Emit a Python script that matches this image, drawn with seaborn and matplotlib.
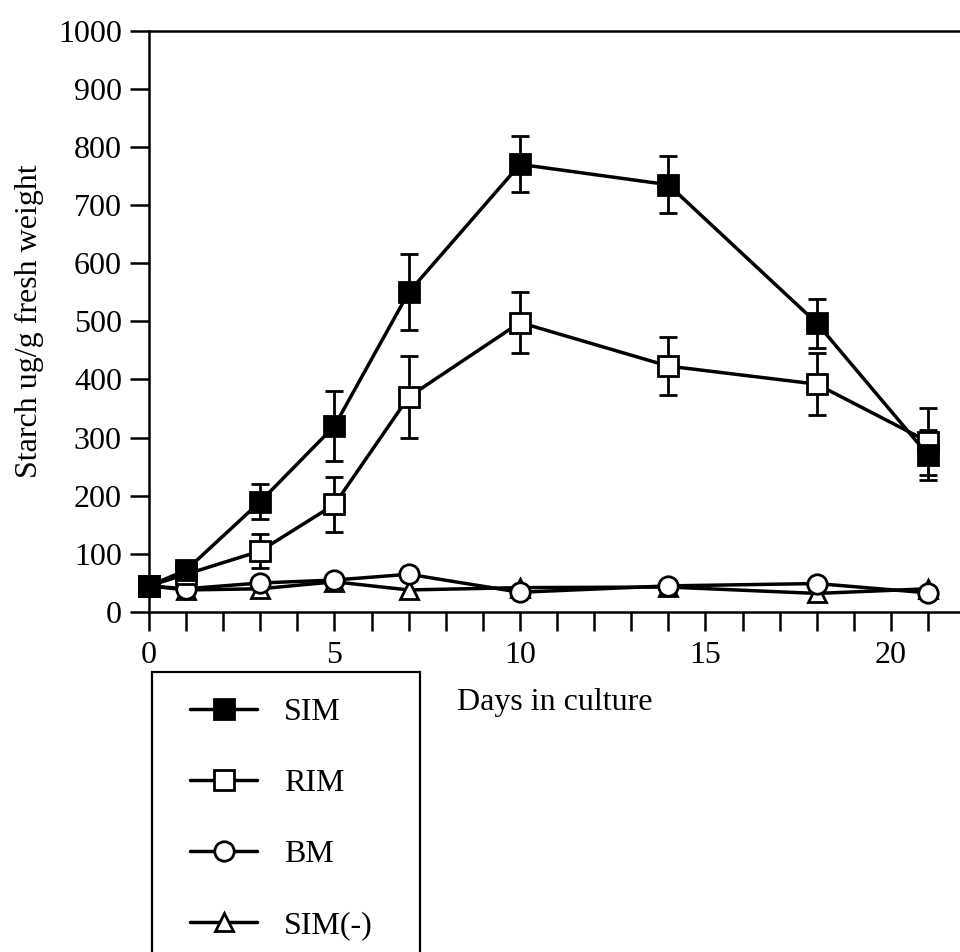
import matplotlib
matplotlib.use("Agg")
import matplotlib.pyplot as plt
from matplotlib.patches import Rectangle
from matplotlib.ticker import FixedLocator, FuncFormatter
import seaborn as sns
import pandas as pd

# Starch content over the culture period (ug/g fresh weight)
days = [0, 1, 3, 5, 7, 10, 14, 18, 21]
sim = [45, 72, 190, 320, 550, 770, 735, 497, 270]
sim_err = [0, 0, 30, 60, 65, 48, 49, 42, 43]
rim = [45, 65, 105, 185, 370, 498, 423, 392, 293]
rim_err = [0, 0, 30, 48, 70, 52, 50, 53, 58]
bm = [45, 40, 50, 55, 65, 34, 45, 49, 33]
sim_minus = [45, 38, 40, 52, 38, 42, 43, 32, 40]

series_names = ["SIM", "RIM", "BM", "SIM(-)"]

sns.set_style("ticks")
plt.rcParams["font.family"] = ["Liberation Serif", "DejaVu Serif"]
plt.rcParams["axes.linewidth"] = 1.8
for key in ("text.color", "axes.labelcolor", "xtick.color", "ytick.color", "axes.edgecolor"):
    plt.rcParams[key] = "black"

FS = 23

fig = plt.figure(figsize=(9.6, 9.52), dpi=100)
ax = fig.add_axes([0.1552, 0.3571, 0.8448, 0.6107])

df = pd.DataFrame({"day": days, "SIM": sim, "RIM": rim, "BM": bm, "SIM(-)": sim_minus})

line_kw = dict(color="black", linewidth=2.5, markersize=14, markeredgewidth=2.0,
               markeredgecolor="black", clip_on=False, ax=ax)

# error bars sit beneath the markers
ax.errorbar(days, sim, yerr=sim_err, fmt="none", ecolor="black", elinewidth=2.0,
            capsize=6.5, capthick=2.0, zorder=1)
ax.errorbar(days, rim, yerr=rim_err, fmt="none", ecolor="black", elinewidth=2.0,
            capsize=6.5, capthick=2.0, zorder=1)

sns.lineplot(data=df, x="day", y="SIM(-)", marker="^", markerfacecolor="white",
             label="SIM(-)", zorder=2, **{**line_kw, "markersize": 13})
sns.lineplot(data=df, x="day", y="BM", marker="o", markerfacecolor="white",
             label="BM", zorder=3, **line_kw)
sns.lineplot(data=df, x="day", y="RIM", marker="s", markerfacecolor="white",
             label="RIM", zorder=4, **line_kw)
sns.lineplot(data=df, x="day", y="SIM", marker="s", markerfacecolor="black",
             label="SIM", zorder=5, **line_kw)

ax.set_xlim(0, 21.86)
ax.set_ylim(0, 1000)

ax.xaxis.set_major_locator(FixedLocator(list(range(0, 22))))
ax.xaxis.set_major_formatter(FuncFormatter(lambda v, p: str(int(v)) if int(v) % 5 == 0 else ""))
ax.yaxis.set_major_locator(FixedLocator(list(range(0, 1001, 100))))
ax.tick_params(axis="both", direction="out", length=13.5, width=1.8, labelsize=FS,
               color="black", labelcolor="black")
ax.tick_params(axis="x", pad=7)
ax.tick_params(axis="y", pad=6)

ax.spines["right"].set_visible(False)

ax.set_xlabel("Days in culture", fontsize=FS, labelpad=13)
ax.set_ylabel("Starch ug/g fresh weight", fontsize=FS, labelpad=10)

# legend: open-bottomed box below the axis
handles, labels = ax.get_legend_handles_labels()
order = [labels.index(n) for n in series_names]
ax.get_legend().remove()
fig.legend([handles[i] for i in order], series_names, loc="upper left",
           bbox_to_anchor=(190 / 960, 1 - 698 / 952), frameon=False, fontsize=FS,
           handlelength=2.1, handletextpad=0.85, labelspacing=1.30,
           borderpad=0, borderaxespad=0)
fig.patches.append(Rectangle((152 / 960, -0.05), (420 - 152) / 960, (952 - 672) / 952 + 0.05,
                             transform=fig.transFigure, fill=False, edgecolor="black",
                             linewidth=1.6, clip_on=False))

fig.savefig("out.png", dpi=100)
